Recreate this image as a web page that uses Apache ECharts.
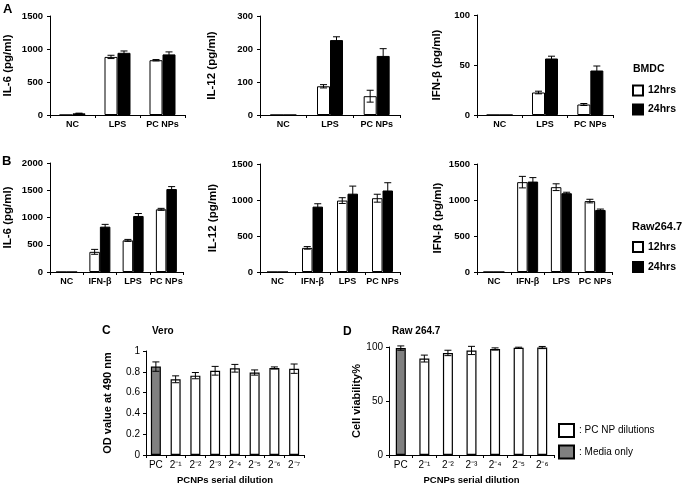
<!DOCTYPE html>
<html><head><meta charset="utf-8">
<script src="https://cdn.jsdelivr.net/npm/echarts@6/dist/echarts.min.js"></script>
<style>html,body{margin:0;padding:0;background:#fff}#c{width:685px;height:486px}</style>
</head><body><div id="c"></div>
<script>
// ---------- categories ----------
const catA = ['NC', 'LPS', 'PC NPs'];
const catB = ['NC', 'IFN-β', 'LPS', 'PC NPs'];
const catC = ['PC', '2⁻¹', '2⁻²', '2⁻³', '2⁻⁴', '2⁻⁵', '2⁻⁶', '2⁻⁷'];
const catD = ['PC', '2⁻¹', '2⁻²', '2⁻³', '2⁻⁴', '2⁻⁵', '2⁻⁶'];

// ---------- panel A (BMDC) ----------
const aIL6_12 = [0, 880, 830];      const aIL6_12err = [0, 25, 10];
const aIL6_24 = [25, 942, 918];     const aIL6_24err = [3, 28, 38];
const aIL12_12 = [0, 87, 57];       const aIL12_12err = [0, 5, 18];
const aIL12_24 = [0, 227, 179];     const aIL12_24err = [0, 10, 22];
const aIFN_12 = [0, 22.5, 10.5];    const aIFN_12err = [0, 1.3, 1];
const aIFN_24 = [0, 56.5, 44.5];    const aIFN_24err = [0, 2.3, 4.5];

// ---------- panel B (Raw264.7) ----------
const bIL6_12 = [0, 370, 580, 1150];    const bIL6_12err = [0, 45, 18, 18];
const bIL6_24 = [0, 832, 1028, 1522];   const bIL6_24err = [0, 42, 45, 45];
const bIL12_12 = [0, 335, 992, 1025];   const bIL12_12err = [0, 18, 40, 55];
const bIL12_24 = [0, 908, 1088, 1132];  const bIL12_24err = [0, 40, 105, 108];
const bIFN_12 = [0, 1248, 1178, 985];   const bIFN_12err = [0, 80, 47, 25];
const bIFN_24 = [0, 1256, 1094, 862];   const bIFN_24err = [0, 55, 14, 12];

// ---------- panel C (Vero) / D (Raw 264.7) ----------
const cOD = [0.85, 0.728, 0.763, 0.81, 0.834, 0.793, 0.837, 0.83];
const cODerr = [0.045, 0.033, 0.03, 0.042, 0.037, 0.025, 0.01, 0.045];
const dViab = [99, 89.3, 94.5, 96.8, 98.2, 99.2, 99.5];
const dViabErr = [2, 3.2, 2.5, 3.8, 1, 0.6, 1];

// ---------- ticks ----------
const yTicksA = [{max: 1500, interval: 500}, {max: 300, interval: 100}, {max: 100, interval: 50}];
const yTicksB = [{max: 2000, interval: 500}, {max: 1500, interval: 500}, {max: 1500, interval: 500}];
const yTicksC = {max: 1, interval: 0.2};
const yTicksD = {max: 100, interval: 50};

const F = 'Liberation Sans, Arial, sans-serif';

const grids = [
  {left: 50, top: 16, width: 135, height: 99},
  {left: 260, top: 16, width: 140, height: 99},
  {left: 477, top: 15, width: 136, height: 100},
  {left: 50, top: 163, width: 133, height: 109},
  {left: 260, top: 164, width: 140, height: 108},
  {left: 477, top: 164, width: 135, height: 108},
  {left: 146, top: 351, width: 158, height: 105},
  {left: 389, top: 347, width: 165, height: 109}
];
const nameGaps = [36, 42, 34, 36, 41, 33, 33, 25];
const yNames = ['IL-6 (pg/ml)', 'IL-12 (pg/ml)', 'IFN-β (pg/ml)', 'IL-6 (pg/ml)', 'IL-12 (pg/ml)', 'IFN-β (pg/ml)', 'OD value at 490 nm', 'Cell viability%'];
const xCats = [catA, catA, catA, catB, catB, catB, catC, catD];
const yT = [...yTicksA, ...yTicksB, yTicksC, yTicksD];

const xAxes = [], yAxes = [];
for (let k = 0; k < 8; k++) {
  const cd = k >= 6;
  xAxes.push({
    type: 'category', gridIndex: k, data: xCats[k],
    axisLine: {show: true, lineStyle: {color: '#000', width: 1}},
    axisTick: {show: true, length: 3, lineStyle: {color: '#000'}},
    axisLabel: {color: '#000', fontFamily: F, fontWeight: cd ? 'normal' : 'bold', fontSize: cd ? 10 : 9, margin: 5, interval: 0},
    name: cd ? 'PCNPs serial dilution' : '', nameLocation: 'middle', nameGap: 20,
    nameTextStyle: {color: '#000', fontFamily: F, fontWeight: 'bold', fontSize: 9.5}
  });
  yAxes.push({
    type: 'value', gridIndex: k, min: 0, max: yT[k].max, interval: yT[k].interval,
    splitLine: {show: false},
    axisLine: {show: true, lineStyle: {color: '#000', width: 1}},
    axisTick: {show: true, length: 3, lineStyle: {color: '#000'}},
    axisLabel: {color: '#000', fontFamily: F, fontWeight: cd ? 'normal' : 'bold', fontSize: cd ? 10 : 9.5, margin: cd ? 6 : 7,
      formatter: v => String(v)},
    name: yNames[k], nameLocation: 'middle', nameRotate: 90, nameGap: nameGaps[k],
    nameTextStyle: {color: '#000', fontFamily: F, fontWeight: 'bold', fontSize: cd ? 11 : 11.5}
  });
}

const whiteStyle = {color: '#fff', borderColor: '#000', borderWidth: 1};
const blackStyle = {color: '#000', borderColor: '#000', borderWidth: 1};
const grayStyle = {color: '#808080', borderColor: '#000', borderWidth: 1.2};

function errorSeries(ax, vals, errs, dx, cap) {
  return {
    type: 'custom', xAxisIndex: ax, yAxisIndex: ax, z: 10, silent: true,
    data: vals.map((v, i) => [i, v, errs[i]]),
    encode: {x: 0, y: 1},
    renderItem: function (params, api) {
      const i = api.value(0), v = api.value(1), e = api.value(2);
      if (!e) return null;
      const c = api.coord([i, v]);
      const x = c[0] + dx;
      const yt = api.coord([i, v + e])[1];
      const yb = api.coord([i, v - e])[1];
      const st = {stroke: '#000', lineWidth: 1};
      return {type: 'group', children: [
        {type: 'line', shape: {x1: x, y1: yt, x2: x, y2: yb}, style: st},
        {type: 'line', shape: {x1: x - cap, y1: yt, x2: x + cap, y2: yt}, style: st},
        {type: 'line', shape: {x1: x - cap, y1: yb, x2: x + cap, y2: yb}, style: st}
      ]};
    }
  };
}

const series = [];
const pairs = [
  [aIL6_12, aIL6_12err, aIL6_24, aIL6_24err, 13],
  [aIL12_12, aIL12_12err, aIL12_24, aIL12_24err, 13],
  [aIFN_12, aIFN_12err, aIFN_24, aIFN_24err, 13],
  [bIL6_12, bIL6_12err, bIL6_24, bIL6_24err, 10.5],
  [bIL12_12, bIL12_12err, bIL12_24, bIL12_24err, 10.5],
  [bIFN_12, bIFN_12err, bIFN_24, bIFN_24err, 10.5]
];
pairs.forEach((p, k) => {
  const w = p[4];
  series.push({type: 'bar', name: '12hrs', xAxisIndex: k, yAxisIndex: k, data: p[0], barWidth: w, barGap: '0%', itemStyle: whiteStyle, silent: true});
  series.push({type: 'bar', name: '24hrs', xAxisIndex: k, yAxisIndex: k, data: p[2], barWidth: w, barGap: '0%', itemStyle: blackStyle, silent: true});
  series.push(errorSeries(k, p[0], p[1], -w / 2, 3.5));
  series.push(errorSeries(k, p[2], p[3], w / 2, 3.5));
});

[[cOD, cODerr, 6], [dViab, dViabErr, 7]].forEach(([vals, errs, k]) => {
  series.push({type: 'bar', name: 'Media only', xAxisIndex: k, yAxisIndex: k, data: vals.map((v, i) => i === 0 ? v : '-'), barWidth: 10, barGap: '-100%', itemStyle: grayStyle, silent: true});
  series.push({type: 'bar', name: 'PC NP dilutions', xAxisIndex: k, yAxisIndex: k, data: vals.map((v, i) => i === 0 ? '-' : v), barWidth: 10, barGap: '-100%', itemStyle: {color: '#fff', borderColor: '#000', borderWidth: 1.2}, silent: true});
  series.push(errorSeries(k, vals, errs, 0, 3.5));
});

function txt(x, y, s, size, weight) {
  return {type: 'text', left: x, top: y, silent: true,
    style: {text: s, fill: '#000', font: (weight || 'bold') + ' ' + size + 'px ' + F}};
}

const legendText = {color: '#000', fontFamily: F, fontWeight: 'bold', fontSize: 10.5};
const option = {
  animation: false,
  backgroundColor: '#fff',
  grid: grids,
  xAxis: xAxes,
  yAxis: yAxes,
  legend: [
    {data: ['12hrs', '24hrs'], icon: 'rect', left: 632, top: 84.5, orient: 'vertical', padding: 0, itemWidth: 10, itemHeight: 10, itemGap: 7, selectedMode: false, textStyle: legendText},
    {data: ['12hrs', '24hrs'], icon: 'rect', left: 632, top: 241, orient: 'vertical', padding: 0, itemWidth: 10, itemHeight: 10, itemGap: 8, selectedMode: false, textStyle: legendText},
    {data: ['PC NP dilutions', 'Media only'], icon: 'rect', left: 558, top: 423, orient: 'vertical', padding: 0, itemWidth: 15, itemHeight: 13, itemGap: 6.5, selectedMode: false,
      formatter: ': {name}', textStyle: {color: '#000', fontFamily: F, fontSize: 10}}
  ],
  graphic: [
    txt(3, 3, 'A', 13), txt(2, 155, 'B', 13), txt(102, 325, 'C', 12), txt(343, 326, 'D', 12),
    txt(633, 64, 'BMDC', 10.5), txt(632, 221, 'Raw264.7', 11),
    txt(152, 326, 'Vero', 10), txt(392, 326, 'Raw 264.7', 10)
  ],
  series: series
};

const chart = echarts.init(document.getElementById('c'), null, {renderer: 'canvas'});
chart.setOption(option);
</script>
</body></html>
